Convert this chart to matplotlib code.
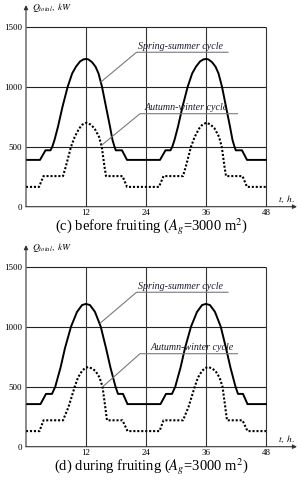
import matplotlib
matplotlib.use("Agg")
from matplotlib import pyplot as plt

plt.rcParams['font.family'] = ['Liberation Serif', 'DejaVu Serif']
plt.rcParams['mathtext.fontset'] = 'stix'

# (c) before fruiting, spring-summer cycle (solid)
c_ss_t = [0, 2.8, 3.9, 4.9, 5.26, 5.7, 6.4, 7.3, 8.34, 9.24, 10.0, 10.8, 11.5, 12.0, 12.45, 13.2, 13.9, 14.5, 15.2,
          16.0, 16.8, 17.3, 17.7, 17.95, 19.2, 20.2] + \
         [26.8, 27.9, 28.9, 29.26, 29.7, 30.4, 31.3, 32.34, 33.24, 34.0, 34.8, 35.5, 36.0, 36.45, 37.2, 37.9, 38.5, 39.2,
          40.0, 40.8, 41.3, 41.7, 41.95, 43.2, 44.2, 48]
c_ss_q = [390, 390, 470, 470, 500, 556, 667, 833, 1000, 1111, 1167, 1210, 1228, 1231, 1228, 1205, 1167, 1111, 1000,
          833, 667, 556, 500, 470, 470, 390] + \
         [390, 470, 470, 500, 556, 667, 833, 1000, 1111, 1167, 1210, 1228, 1231, 1228, 1205, 1167, 1111, 1000,
          833, 667, 556, 500, 470, 470, 390, 390]
# (c) autumn-winter cycle (dotted)
c_aw_t = [0, 2.6, 3.5, 7.4, 7.95, 8.5, 9.0, 9.75, 10.65, 11.3, 12.1, 12.9, 13.7, 14.6, 15.15, 15.7, 16.0, 19.3, 20.2] + \
         [26.6, 27.5, 31.4, 31.95, 32.5, 33.0, 33.75, 34.65, 35.3, 36.1, 36.9, 37.7, 38.6, 39.15, 39.7, 40.0, 43.3, 44.2, 48]
c_aw_q = [165, 165, 255, 255, 333, 420, 500, 583, 653, 685, 700, 685, 653, 583, 500, 333, 255, 255, 165] + \
         [165, 255, 255, 333, 420, 500, 583, 653, 685, 700, 685, 653, 583, 500, 333, 255, 255, 165, 165]

# (d) during fruiting, spring-summer cycle (solid)
d_ss_t = [0, 2.9, 4.0, 5.2, 5.85, 6.9, 7.8, 9.0, 10.2, 11.2, 12.0, 12.8, 13.8, 14.95, 16.0, 16.9, 17.9, 18.4, 19.4, 20.3] + \
         [26.9, 28.0, 29.2, 29.85, 30.9, 31.8, 33.0, 34.2, 35.2, 36.0, 36.8, 37.8, 38.95, 40.0, 40.9, 41.9, 42.4, 43.4, 44.3, 48]
d_ss_q = [355, 355, 440, 440, 500, 658, 822, 1000, 1123, 1180, 1190, 1180, 1123, 1000, 822, 658, 500, 440, 440, 355] + \
         [355, 440, 440, 500, 658, 822, 1000, 1123, 1180, 1190, 1180, 1123, 1000, 822, 658, 500, 440, 440, 355, 355]
# (d) autumn-winter cycle (dotted)
d_aw_t = [0, 2.7, 3.5, 7.4, 8.5, 9.75, 10.4, 11.2, 11.8, 12.45, 13.2, 13.9, 14.7, 15.3, 15.85, 16.2, 19.3, 20.3] + \
         [26.7, 27.5, 31.4, 32.5, 33.75, 34.4, 35.2, 35.8, 36.45, 37.2, 37.9, 38.7, 39.3, 39.85, 40.2, 43.3, 44.3, 48]
d_aw_q = [130, 130, 220, 220, 331, 500, 577, 631, 655, 664, 652, 631, 577, 500, 331, 220, 220, 130] + \
         [130, 220, 220, 331, 500, 577, 631, 655, 664, 652, 631, 577, 500, 331, 220, 220, 130, 130]

x_ticks = [12, 24, 36, 48]
y_ticks = [0, 500, 1000, 1500]

fig = plt.figure(figsize=(3.03, 4.8), dpi=100)


def panel(bottom, ss_t, ss_q, aw_t, aw_q, ss_hit, aw_hit, aw_text_x, caption, cap_y):
    ax = fig.add_axes([26 / 303, bottom, 271 / 303, 201.6 / 480])
    ax.set_xlim(0, 54.2)
    ax.set_ylim(0, 1680)
    for s in ax.spines.values():
        s.set_visible(False)

    # grid
    ax.hlines([500, 1000, 1500], 0, 48, color='#222222', lw=0.8)
    ax.vlines(x_ticks, 0, 1500, color='#333333', lw=0.8)

    # axes with arrows
    ax.annotate('', xy=(54.2, 0), xytext=(0, 0), annotation_clip=False,
                arrowprops=dict(arrowstyle='-|>', color='#333333', lw=0.8,
                                mutation_scale=6, shrinkA=0, shrinkB=0))
    ax.annotate('', xy=(0, 1680), xytext=(0, 0), annotation_clip=False,
                arrowprops=dict(arrowstyle='-|>', color='#333333', lw=0.8,
                                mutation_scale=6, shrinkA=0, shrinkB=0))

    ax.plot(ss_t, ss_q, color='black', lw=1.4, solid_joinstyle='round')
    ax.plot(aw_t, aw_q, color='black', lw=1.5, linestyle=(0, (1.0, 0.9)))

    # labels with leader lines
    ax.plot([ss_hit[0], 22.1, 40.4], [ss_hit[1], 1287, 1287], color='#7a7a7a', lw=0.8)
    ax.text(22.4, 1300, 'Spring-summer cycle', style='italic', fontsize=7.2,
            color='#1a1a2e', ha='left', va='bottom')
    ax.plot([aw_hit[0], 22.8, 42.3], [aw_hit[1], 775, 775], color='#7a7a7a', lw=0.8)
    ax.text(aw_text_x, 788, 'Autumn-winter cycle', style='italic', fontsize=7.2,
            color='#1a1a2e', ha='left', va='bottom')

    ax.set_xticks(x_ticks)
    ax.set_yticks(y_ticks)
    ax.tick_params(axis='both', length=0, labelsize=6.5)
    ax.tick_params(axis='x', pad=2)
    ax.tick_params(axis='y', pad=3)

    ax.text(1.2, 1660, r'$Q_{total},\ kW$', fontsize=6.8, ha='left', va='center')
    ax.text(50.4, 64, r'$t,\ h.$', fontsize=6.8, ha='left', va='center')

    fig.text(151 / 303, cap_y, caption, fontsize=10.5, ha='center', va='center')


panel(1 - 206.7 / 480, c_ss_t, c_ss_q, c_aw_t, c_aw_q, (15.0, 1040), (15.2, 515), 23.8,
      r'(c) before fruiting ($A_g$=3000 m$^2$)', 1 - 227 / 480)
panel(1 - 446.7 / 480, d_ss_t, d_ss_q, d_aw_t, d_aw_q, (14.85, 1030), (15.35, 500), 25.0,
      r'(d) during fruiting ($A_g$=3000 m$^2$)', 1 - 467 / 480)

plt.savefig('out.png', dpi=100)
